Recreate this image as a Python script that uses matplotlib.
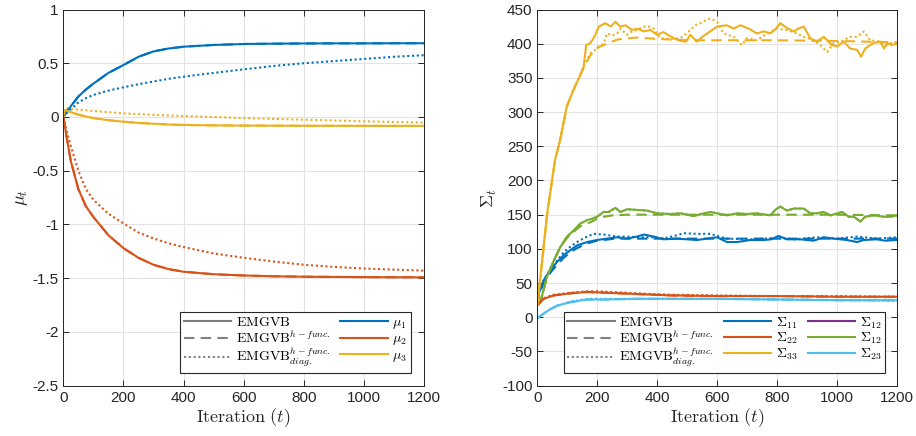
import matplotlib
matplotlib.use("Agg")
import matplotlib.pyplot as plt
from matplotlib.lines import Line2D

plt.rcParams['font.family'] = ['Liberation Sans', 'DejaVu Sans']
plt.rcParams['mathtext.fontset'] = 'cm'
plt.rcParams['axes.unicode_minus'] = False

# MATLAB default colours
c_blue = '#0072BD'
c_orange = '#D95319'
c_yellow = '#EDB120'
c_purple = '#7E2F8E'
c_green = '#77AC30'
c_cyan = '#4DBEEE'
c_gray = '#808080'

# =========================
# left panel: mu_t
# =========================
mu_it = [0, 5, 10, 25, 50, 75, 100, 150, 200, 250, 300, 350, 400, 500, 600, 700, 800, 900, 1000, 1100, 1200]

mu1_solid = [0, 0.02, 0.045, 0.10, 0.19, 0.255, 0.31, 0.41, 0.483, 0.56, 0.61, 0.637, 0.654, 0.67, 0.679, 0.682, 0.684, 0.685, 0.685, 0.686, 0.686]
mu1_dot = [0, 0.02, 0.035, 0.07, 0.135, 0.175, 0.205, 0.245, 0.276, 0.305, 0.33, 0.355, 0.375, 0.41, 0.443, 0.475, 0.50, 0.52, 0.54, 0.56, 0.575]
mu2_solid = [0, -0.08, -0.17, -0.41, -0.67, -0.83, -0.93, -1.10, -1.22, -1.31, -1.375, -1.415, -1.44, -1.463, -1.475, -1.482, -1.486, -1.488, -1.49, -1.491, -1.492]
mu2_dot = [0, -0.06, -0.12, -0.27, -0.50, -0.67, -0.77, -0.90, -0.99, -1.075, -1.13, -1.175, -1.21, -1.27, -1.31, -1.345, -1.375, -1.395, -1.41, -1.42, -1.43]
mu3_solid = [0, 0.065, 0.06, 0.045, 0.022, 0.005, -0.01, -0.03, -0.044, -0.055, -0.063, -0.07, -0.074, -0.078, -0.08, -0.081, -0.082, -0.082, -0.083, -0.083, -0.083]
mu3_dot = [0, 0.07, 0.08, 0.075, 0.068, 0.062, 0.056, 0.045, 0.034, 0.027, 0.02, 0.014, 0.009, 0.0, -0.01, -0.018, -0.025, -0.032, -0.04, -0.046, -0.052]
# h-func. (dashed) coincides with EMGVB
mu1_dash = mu1_solid
mu2_dash = mu2_solid
mu3_dash = mu3_solid

# =========================
# right panel: Sigma_t
# =========================
s33_it = [0, 14, 33, 59, 76, 98, 120, 143, 154, 163, 177, 190, 205, 227, 245, 260, 277, 294, 315, 332, 355, 377, 399, 420, 443, 460, 477, 495, 510, 532, 550, 566, 583, 599, 632, 655, 677, 705, 732, 755, 777, 795, 810, 832, 855, 870, 888, 910, 932, 955, 982, 999, 1021, 1043, 1066, 1079, 1093, 1121, 1143, 1156, 1166, 1180, 1199]
s33_solid = [18, 74, 152, 230, 259, 308, 332, 354, 366, 398, 401, 410, 425, 430, 425, 432, 425, 427, 420, 422, 418, 420, 413, 417, 411, 407, 404, 403, 413, 403, 410, 415, 420, 425, 427, 422, 427, 422, 415, 418, 415, 422, 430, 423, 418, 422, 425, 408, 403, 410, 398, 396, 403, 393, 391, 381, 393, 401, 403, 393, 401, 398, 400]
s33_dot_it = [0, 14, 33, 59, 76, 98, 120, 143, 160, 177, 190, 205, 221, 232, 250, 266, 277, 299, 315, 332, 350, 366, 388, 410, 440, 477, 495, 510, 530, 543, 560, 577, 599, 621, 655, 682, 699, 732, 766, 799, 832, 866, 888, 921, 943, 966, 988, 1010, 1043, 1066, 1088, 1110, 1143, 1166, 1188, 1200]
s33_dot = [18, 74, 152, 230, 259, 308, 332, 354, 372, 386, 390, 396, 400, 415, 412, 415, 422, 413, 418, 420, 424, 426, 422, 408, 407, 408, 414, 420, 428, 430, 434, 437, 432, 415, 410, 398, 408, 405, 415, 422, 420, 415, 410, 405, 398, 388, 401, 403, 410, 410, 418, 405, 403, 398, 403, 398]
s33_dash_it = [0, 14, 33, 59, 76, 98, 120, 143, 160, 177, 193, 210, 232, 266, 300, 332, 400, 500, 600, 800, 1000, 1200]
s33_dash = [18, 74, 152, 230, 259, 308, 332, 354, 370, 383, 392, 396, 400, 406, 408, 409, 407, 405, 405, 405, 404, 402]

s13_it = [0, 10, 32, 55, 77, 99, 121, 143, 166, 182, 199, 221, 238, 260, 277, 299, 332, 366, 399, 443, 477, 521, 555, 577, 599, 632, 666, 699, 732, 777, 793, 810, 832, 855, 888, 910, 932, 955, 977, 1016, 1038, 1055, 1077, 1093, 1121, 1155, 1177, 1199]
s13_solid = [18, 22, 59, 83, 103, 118, 127, 137, 142, 144, 147, 154, 154, 160, 154, 158, 157, 156, 152, 151, 152, 148, 152, 154, 152, 149, 152, 151, 152, 149, 157, 162, 156, 159, 159, 152, 152, 154, 149, 154, 147, 147, 140, 147, 149, 147, 147, 149]
s13_dash_it = [0, 10, 32, 55, 77, 99, 121, 143, 166, 182, 199, 221, 250, 300, 400, 600, 800, 1000, 1200]
s13_dash = [18, 22, 59, 83, 103, 116, 125, 133, 137, 140, 144, 147, 149, 150, 150, 150, 150, 150, 149]
s13_dot = s13_solid

s11_it = [0, 5, 21, 43, 66, 88, 110, 132, 166, 199, 232, 266, 299, 332, 355, 388, 421, 466, 499, 532, 566, 599, 632, 666, 710, 755, 780, 804, 832, 877, 921, 955, 988, 1032, 1066, 1088, 1132, 1160, 1199]
s11_solid = [18, 35, 54, 69, 81, 91, 98, 105, 110, 113, 115, 117, 115, 118, 121, 118, 114, 115, 114, 113, 115, 117, 110, 110, 113, 113, 114, 119, 114, 114, 112, 117, 115, 113, 110, 113, 114, 112, 113]
s11_dot_it = [0, 5, 21, 43, 66, 88, 110, 132, 166, 188, 221, 266, 299, 332, 380, 420, 466, 488, 532, 577, 599, 632, 710, 800, 860, 932, 1000, 1066, 1132, 1199]
s11_dot = [18, 35, 54, 70, 83, 95, 103, 110, 118, 122, 121, 118, 118, 117, 117, 115, 120, 123, 122, 122, 119, 115, 114, 116, 114, 117, 115, 118, 115, 117]
s11_dash_it = [0, 5, 21, 43, 66, 88, 110, 132, 166, 199, 221, 260, 300, 400, 600, 800, 1000, 1200]
s11_dash = [18, 33, 50, 65, 77, 87, 95, 101, 108, 112, 113, 115, 115, 115, 115, 115, 115, 115]

s22_it = [0, 5, 21, 55, 110, 166, 221, 332, 443, 600, 800, 1000, 1200]
s22_solid = [18, 20, 27, 32, 35, 37, 36, 34, 32, 31, 31, 30, 30]
s22_dash = s22_solid
s22_dot_it = [0, 5, 21, 55, 110, 166, 200, 250, 332, 443, 600, 800, 1000, 1200]
s22_dot = [18, 20, 28, 33, 36, 38, 38, 37, 35, 33, 32, 31, 31, 30]

s23_it = [0, 20, 40, 66, 110, 166, 221, 332, 599, 800, 1000, 1200]
s23_solid = [-1.5, 5, 11, 17, 22, 26, 26, 27, 27, 26, 25, 25]
s23_dash = s23_solid
s23_dot = [-1.5, 5, 11, 17, 23, 27, 27, 27, 27, 26, 25, 24]

LW = 1.5
DOT = (0, (1, 1.3))
DASH = (0, (5, 3))

fig = plt.figure(figsize=(9.16, 4.36), dpi=100)
ax1 = fig.add_axes([0.0691, 0.1154, 0.3938, 0.8628])
ax2 = fig.add_axes([0.5866, 0.1154, 0.3930, 0.8628])


def style_axes(ax):
    ax.grid(True, color='#e3e3e3', linewidth=0.8)
    ax.set_axisbelow(True)
    ax.tick_params(direction='in', top=True, right=True, length=4,
                   labelsize=11, colors='#262626', width=0.7)
    for s in ax.spines.values():
        s.set_color('#262626')
        s.set_linewidth(0.7)


# left
for ys, c in [(mu1_dash, c_blue), (mu2_dash, c_orange), (mu3_dash, c_yellow)]:
    ax1.plot(mu_it, ys, color=c, lw=LW, linestyle=DASH)
for ys, c in [(mu1_dot, c_blue), (mu2_dot, c_orange), (mu3_dot, c_yellow)]:
    ax1.plot(mu_it, ys, color=c, lw=LW, linestyle=DOT)
for ys, c in [(mu1_solid, c_blue), (mu2_solid, c_orange), (mu3_solid, c_yellow)]:
    ax1.plot(mu_it, ys, color=c, lw=LW)

ax1.set_xlim(0, 1200)
ax1.set_ylim(-2.5, 1)
ax1.set_xticks(range(0, 1201, 200))
ax1.set_yticks([1, 0.5, 0, -0.5, -1, -1.5, -2, -2.5])
ax1.set_yticklabels(['1', '0.5', '0', '-0.5', '-1', '-1.5', '-2', '-2.5'])
style_axes(ax1)
ax1.set_xlabel(r'$\mathrm{Iteration}\ (t)$', fontsize=13, labelpad=1, color='#262626')
ax1.set_ylabel(r'$\mu_t$', fontsize=13, labelpad=2, color='#262626')

# right
ax2.plot(s11_dash_it, s11_dash, color=c_blue, lw=LW, linestyle=DASH)
ax2.plot(s11_dot_it, s11_dot, color=c_blue, lw=LW, linestyle=DOT)
ax2.plot(s11_it, s11_solid, color=c_blue, lw=LW)
ax2.plot(s13_it, s13_dot, color=c_green, lw=LW, linestyle=DOT)
ax2.plot(s13_dash_it, s13_dash, color=c_green, lw=LW, linestyle=DASH)
ax2.plot(s13_it, s13_solid, color=c_green, lw=LW)
ax2.plot(s22_it, s22_dash, color=c_orange, lw=LW, linestyle=DASH)
ax2.plot(s22_dot_it, s22_dot, color=c_orange, lw=LW, linestyle=DOT)
ax2.plot(s22_it, s22_solid, color=c_orange, lw=LW)
ax2.plot(s23_it, s23_dash, color=c_cyan, lw=LW, linestyle=DASH)
ax2.plot(s23_it, s23_dot, color=c_cyan, lw=LW, linestyle=DOT)
ax2.plot(s23_it, s23_solid, color=c_cyan, lw=LW)
ax2.plot(s33_dash_it, s33_dash, color=c_yellow, lw=LW, linestyle=DASH)
ax2.plot(s33_dot_it, s33_dot, color=c_yellow, lw=LW, linestyle=DOT)
ax2.plot(s33_it, s33_solid, color=c_yellow, lw=LW)

ax2.set_xlim(0, 1200)
ax2.set_ylim(-100, 450)
ax2.set_xticks(range(0, 1201, 200))
ax2.set_yticks(range(-100, 451, 50))
style_axes(ax2)
ax2.set_xlabel(r'$\mathrm{Iteration}\ (t)$', fontsize=13, labelpad=1, color='#262626')
ax2.set_ylabel(r'$\Sigma_t$', fontsize=13, labelpad=2, color='#262626')

# legends
lab_m = [r'$\mathrm{EMGVB}$', r'$\mathrm{EMGVB}^{h-func.}$', r'$\mathrm{EMGVB}^{h-func.}_{diag.}$']
h_m = [Line2D([], [], color=c_gray, lw=LW),
       Line2D([], [], color=c_gray, lw=LW, linestyle=DASH),
       Line2D([], [], color=c_gray, lw=LW, linestyle=DOT)]

h_mu = [Line2D([], [], color=c, lw=LW) for c in [c_blue, c_orange, c_yellow]]
lab_mu = [r'$\mu_1$', r'$\mu_2$', r'$\mu_3$']
leg_kw = dict(fontsize=10, frameon=True, fancybox=False, edgecolor='#262626',
              framealpha=1, handlelength=3.4, handletextpad=0.35,
              columnspacing=0.7, labelspacing=0.02, borderpad=0.25,
              borderaxespad=0)
l1 = ax1.legend(h_m + h_mu, lab_m + lab_mu, ncol=2, loc='lower right',
                bbox_to_anchor=(0.963, 0.035), **leg_kw)
l1.get_frame().set_linewidth(0.8)

h_s = [Line2D([], [], color=c, lw=LW) for c in
       [c_blue, c_orange, c_yellow, c_purple, c_green, c_cyan]]
lab_s = [r'$\Sigma_{11}$', r'$\Sigma_{22}$', r'$\Sigma_{33}$',
         r'$\Sigma_{12}$', r'$\Sigma_{12}$', r'$\Sigma_{23}$']
l2 = ax2.legend(h_m + h_s, lab_m + lab_s, ncol=3, loc='lower right',
                bbox_to_anchor=(0.966, 0.035), **leg_kw)
l2.get_frame().set_linewidth(0.8)

fig.savefig('out.png', dpi=100)
